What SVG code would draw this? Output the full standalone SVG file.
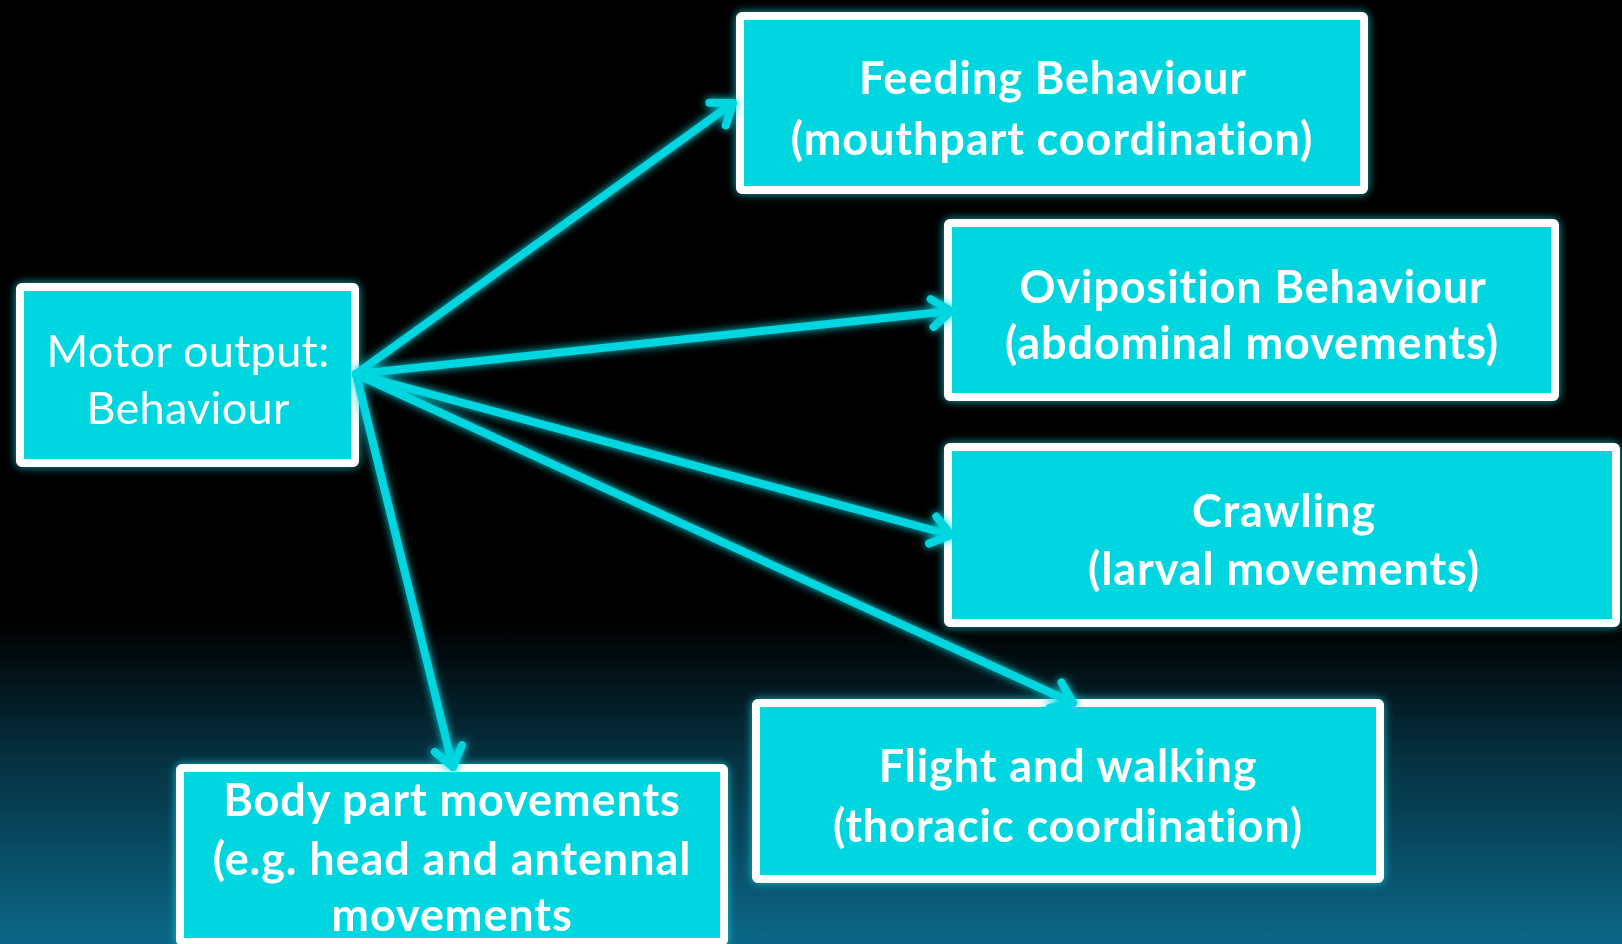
<svg xmlns="http://www.w3.org/2000/svg" width="1622" height="944" viewBox="0 0 1622 944">
  <defs>
    <linearGradient id="bg" x1="0" y1="0" x2="0" y2="1">
      <stop offset="0" stop-color="#000000"/>
      <stop offset="0.66" stop-color="#000000"/>
      <stop offset="0.8" stop-color="#05303f"/>
      <stop offset="1" stop-color="#0b6787"/>
    </linearGradient>
    <filter id="boxglow" filterUnits="userSpaceOnUse" x="0" y="0" width="1622" height="944">
      <feGaussianBlur in="SourceAlpha" stdDeviation="5" result="b"/>
      <feFlood flood-color="#1fc9d2" flood-opacity="0.85"/>
      <feComposite in2="b" operator="in" result="g"/>
      <feMerge><feMergeNode in="g"/><feMergeNode in="SourceGraphic"/></feMerge>
    </filter>
    <filter id="lineglow" filterUnits="userSpaceOnUse" x="0" y="0" width="1622" height="944">
      <feGaussianBlur in="SourceGraphic" stdDeviation="4" result="b"/>
      <feMerge><feMergeNode in="b"/><feMergeNode in="SourceGraphic"/></feMerge>
    </filter>
    <marker id="arrow" markerUnits="userSpaceOnUse" viewBox="-30 -20 40 40" markerWidth="40" markerHeight="40" refX="0" refY="0" orient="auto">
      <path d="M -19 -14 L 0 0 L -19 14" fill="none" stroke="#00d6e0" stroke-width="8" stroke-linecap="round" stroke-linejoin="round"/>
    </marker>
    <style>
      .box { fill: #00d6e0; stroke: #ffffff; stroke-width: 8; }
      .t { fill: #ffffff; font-family: Lato, "Open Sans", "Liberation Sans", sans-serif; text-anchor: middle; font-variant-ligatures: none; font-feature-settings: "liga" 0, "clig" 0; }
      .b { font-weight: bold; font-size: 45px; letter-spacing: 0.9px; }
      .r { font-size: 45px; letter-spacing: 0.3px; }
      .conn { stroke: #00d6e0; stroke-width: 8; stroke-linecap: round; fill: none; marker-end: url(#arrow); }
    </style>
  </defs>
  <rect x="0" y="0" width="1622" height="944" fill="url(#bg)"/>

  <g id="node-motor" filter="url(#boxglow)">
    <rect class="box" x="20" y="287" width="335" height="176" rx="2"/>
    <text class="t r" x="188" y="367">Motor output:</text>
    <text class="t r" x="188" y="424">Behaviour</text>
  </g>
  <g id="node-feeding" filter="url(#boxglow)">
    <rect class="box" x="740" y="16" width="624" height="174" rx="2"/>
    <text class="t b" x="1053" y="94">Feeding Behaviour</text>
    <text class="t b" x="1052" y="155">(mouthpart coordination)</text>
  </g>
  <g id="node-oviposition" filter="url(#boxglow)">
    <rect class="box" x="948" y="223" width="607" height="174" rx="2"/>
    <text class="t b" x="1253" y="303">Oviposition Behaviour</text>
    <text class="t b" x="1252" y="359">(abdominal movements)</text>
  </g>
  <g id="node-crawling" filter="url(#boxglow)">
    <rect class="box" x="948" y="447" width="668" height="176" rx="2"/>
    <text class="t b" x="1284" y="527">Crawling</text>
    <text class="t b" x="1284" y="585">(larval movements)</text>
  </g>
  <g id="node-flight" filter="url(#boxglow)">
    <rect class="box" x="756" y="703" width="624" height="176" rx="2"/>
    <text class="t b" x="1068" y="782">Flight and walking</text>
    <text class="t b" x="1068" y="842">(thoracic coordination)</text>
  </g>
  <g id="node-body" filter="url(#boxglow)">
    <rect class="box" x="180" y="768" width="544" height="174" rx="2"/>
    <text class="t b" x="452" y="816">Body part movements</text>
    <text class="t b" x="452" y="875">(e.g. head and antennal</text>
    <text class="t b" x="452" y="931">movements</text>
  </g>

  <g id="connectors" filter="url(#lineglow)">
    <line class="conn" x1="356" y1="374" x2="733" y2="103"/>
    <line class="conn" x1="356" y1="374" x2="951" y2="311"/>
    <line class="conn" x1="356" y1="374" x2="951" y2="535"/>
    <line class="conn" x1="356" y1="374" x2="1073" y2="703"/>
    <line class="conn" x1="356" y1="374" x2="453" y2="767"/>
  </g>
</svg>
